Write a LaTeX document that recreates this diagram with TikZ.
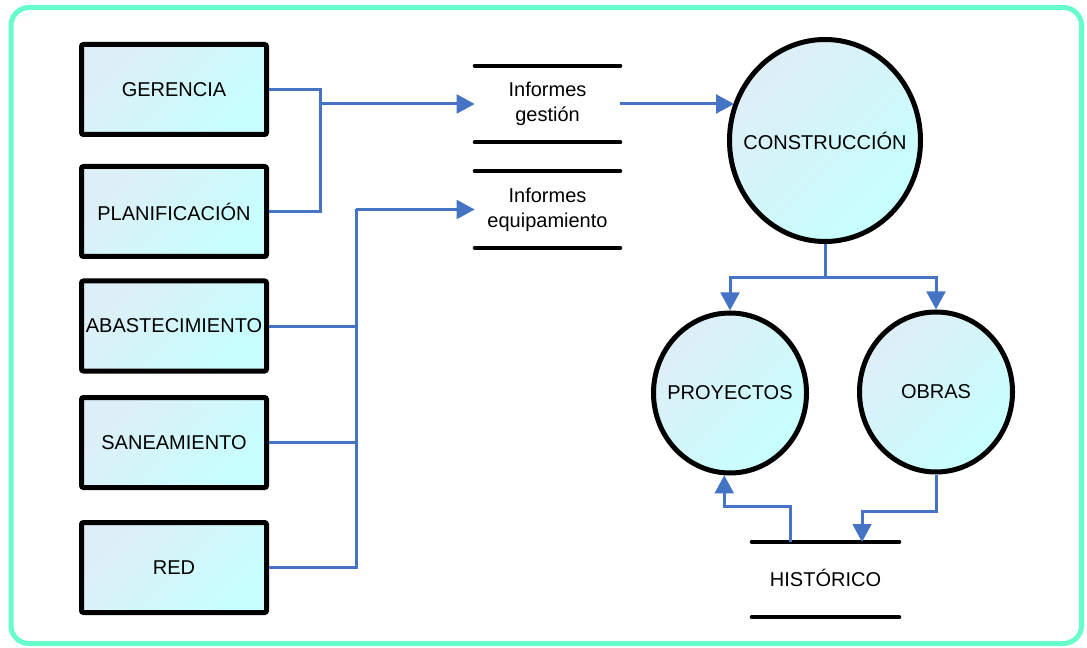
\documentclass[tikz,border=0pt]{standalone}
\usepackage{fontspec}
\setmainfont{Liberation Sans}
\usetikzlibrary{arrows.meta,shapes.geometric}
\definecolor{framegreen}{RGB}{102,255,204}
\definecolor{flowblue}{RGB}{70,116,196}
\definecolor{fillA}{RGB}{222,238,246}
\definecolor{fillB}{RGB}{198,255,255}
\begin{document}
\begin{tikzpicture}[x=0.75pt,y=-0.75pt,
  every node/.style={font=\fontsize{15}{18.75}\selectfont},
  unit/.style={draw=black, line width=3.75pt, rounded corners=1.5pt,
    left color=fillA, right color=fillB, shading angle=45,
    minimum width=138.75pt, minimum height=67.5pt, inner sep=0pt},
  proc/.style={ellipse, draw=black, line width=3.75pt,
    left color=fillA, right color=fillB, shading angle=45, inner sep=0pt},
  store/.style={minimum width=108.75pt, minimum height=57pt, inner sep=0pt, align=center},
  storeline/.style={line width=3pt, line cap=round},
  flow/.style={draw=flowblue, line width=2.25pt},
  tip/.style={-{Triangle[length=13.5pt,width=14pt]}}
]
\useasboundingbox (0,0) rectangle (1087,648);

% outer frame
\draw[framegreen, line width=3.75pt, rounded corners=13.5pt] (11,7.5) rectangle (1081.5,643.5);

% departments
\node[unit] (ger) at (174,89.5)  {GERENCIA};
\node[unit] (pla) at (174,211.5) {PLANIFICACIÓN};
\node[unit] (aba) at (174,326)   {ABASTECIMIENTO};
\node[unit] (san) at (174,442.5) {SANEAMIENTO};
\node[unit] (red) at (174,567.5) {RED};

% data stores
\node[store] (ig) at (547.5,104)   {Informes\\gestión};
\node[store] (ie) at (547.5,209.5) {Informes\\equipamiento};
\node[store, minimum width=110.25pt, minimum height=56.25pt,
      text height=10.75pt, text depth=0pt] (his) at (825.5,579.5) {HISTÓRICO};
\foreach \s in {ig,ie,his} {
  \draw[storeline] (\s.north west) -- (\s.north east);
  \draw[storeline] (\s.south west) -- (\s.south east);
}

% processes
\node[proc, minimum width=143.25pt, minimum height=151.5pt] (con) at (825,140.5)
  {\makebox[0pt]{CONSTRUCCIÓN}};
\node[proc, minimum width=114.75pt, minimum height=120pt] (pro) at (730,393)
  {\makebox[0pt]{PROYECTOS}};
\node[proc, minimum width=114.75pt, minimum height=120pt] (obr) at (936,392)
  {\makebox[0pt]{OBRAS}};

% junction points
\coordinate (j1) at (320,104);
\coordinate (j2) at (356,209.5);
\coordinate (b1) at (825,278);
\coordinate (hup) at (790,542);
\coordinate (hin) at (862,542);

% flows into the report stores
\draw[flow] (ger.east) -| (j1);
\draw[flow] (pla.east) -| (j1);
\draw[flow,tip] (j1) -- (ig.west);
\draw[flow] (aba.east) -| (j2);
\draw[flow] (san.east) -| (j2);
\draw[flow] (red.east) -| (j2);
\draw[flow,tip] (j2) -- (ie.west);

% construction branch
\draw[flow,tip] (ig.east) -- (ig.east -| con.157);
\draw[flow] (con.south) -- (b1);
\draw[flow,tip] (b1) -| (pro.north);
\draw[flow,tip] (b1) -| (obr.north);

% history store
\draw[flow,tip] (hup) -- ++(0,-36) -| (pro.266);
\draw[flow,tip] (obr.south) -- ++(0,37) -| (hin);
\end{tikzpicture}
\end{document}
